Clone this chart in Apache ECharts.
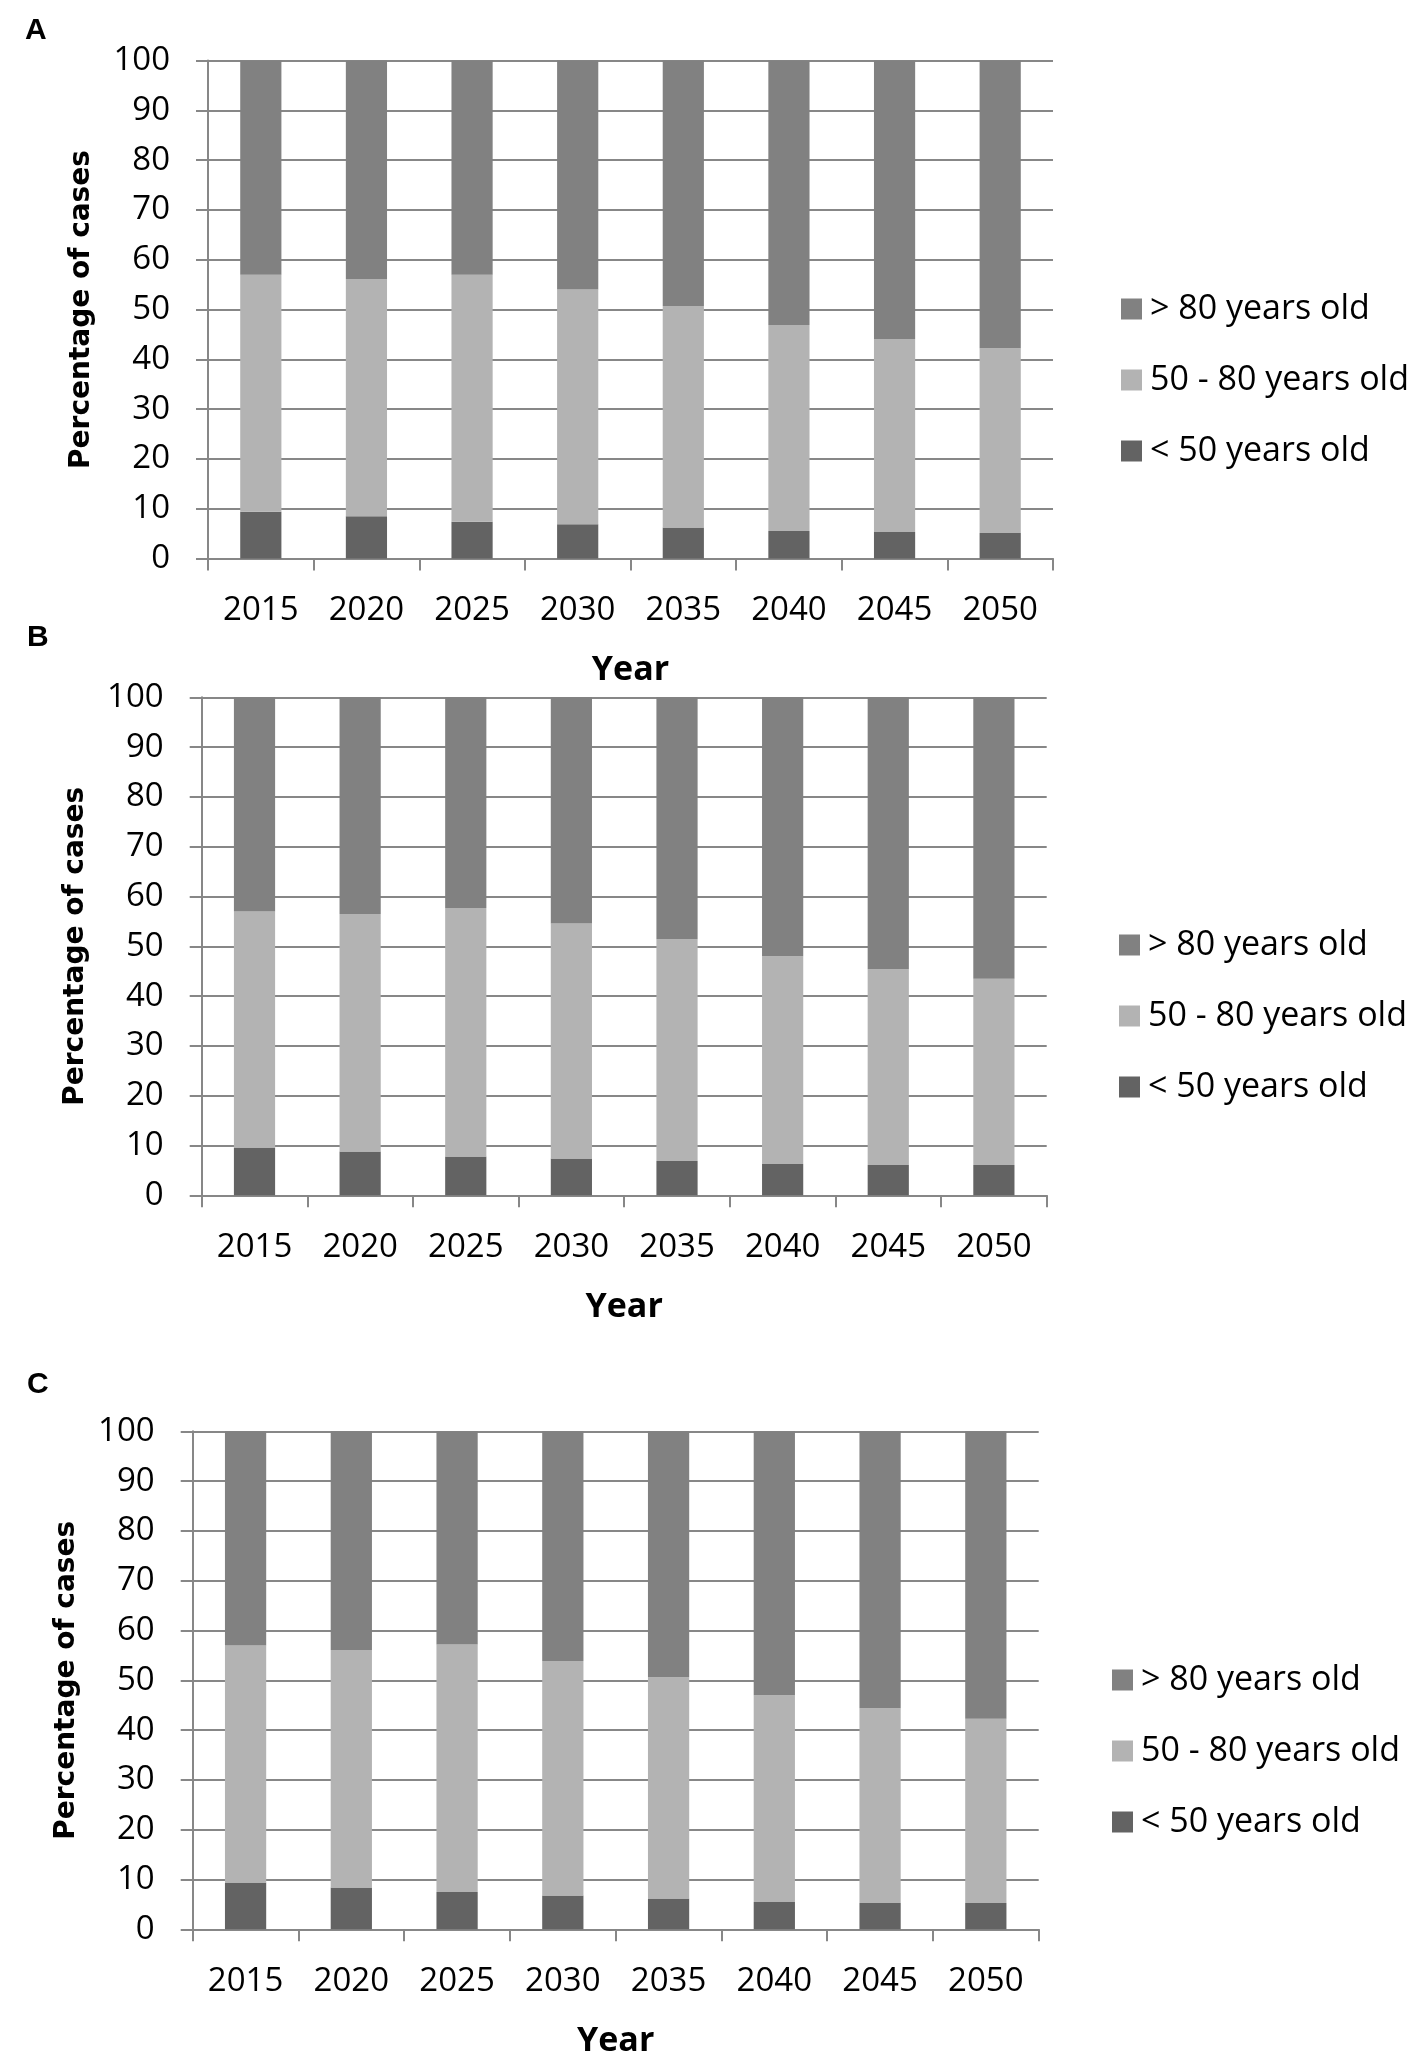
<!DOCTYPE html>
<html>
<head>
<meta charset="utf-8">
<script src="https://cdn.jsdelivr.net/npm/echarts@6/dist/echarts.min.js"></script>
<style>
  html, body { margin: 0; padding: 0; background: #ffffff; }
  #chart { width: 1417px; height: 2061px; }
</style>
</head>
<body>
<div id="chart"></div>
<script>
// ---- Data (percent of cases) ----
const categories = ['2015', '2020', '2025', '2030', '2035', '2040', '2045', '2050'];
const seriesNames = ['< 50 years old', '50 - 80 years old', '> 80 years old'];
const legendOrder = ['> 80 years old', '50 - 80 years old', '< 50 years old'];
const yTicks = [0, 10, 20, 30, 40, 50, 60, 70, 80, 90, 100];

// Panel A
const A_under50 = [9.4, 8.5, 7.4, 6.9, 6.2, 5.5, 5.3, 5.1];
const A_50to80  = [47.6, 47.6, 49.6, 47.1, 44.5, 41.4, 38.8, 37.1];
const A_over80  = [43.0, 43.9, 43.0, 46.0, 49.3, 53.1, 55.9, 57.8];
// Panel B
const B_under50 = [9.6, 8.8, 7.8, 7.4, 6.9, 6.3, 6.1, 6.1];
const B_50to80  = [47.4, 47.7, 49.9, 47.2, 44.5, 41.7, 39.3, 37.4];
const B_over80  = [43.0, 43.5, 42.3, 45.4, 48.6, 52.0, 54.6, 56.5];
// Panel C
const C_under50 = [9.4, 8.4, 7.5, 6.8, 6.2, 5.5, 5.3, 5.3];
const C_50to80  = [47.6, 47.7, 49.7, 47.1, 44.4, 41.5, 39.1, 37.0];
const C_over80  = [43.0, 43.9, 42.8, 46.1, 49.4, 53.0, 55.6, 57.7];

const panelLabels = ['A', 'B', 'C'];
const panelData = [
  [A_under50, A_50to80, A_over80],
  [B_under50, B_50to80, B_over80],
  [C_under50, C_50to80, C_over80]
];

// ---- Layout / style ----
const colors = ['#636363', '#b3b3b3', '#818181'];
const gridColor = '#878787';
const tickFont = '"Open Sans", "DejaVu Sans", sans-serif';
const panels = [
  { left: 208, top: 60.5, width: 845, height: 498, legendLeft: 1116, legendTop: 287, letterX: 25, letterY: 31 },
  { left: 201.7, top: 697.3, width: 845, height: 498, legendLeft: 1114, legendTop: 923, letterX: 27, letterY: 638 },
  { left: 192.7, top: 1431.3, width: 846, height: 498, legendLeft: 1107, legendTop: 1658, letterX: 27, letterY: 1385 }
];

const grids = [], xAxes = [], yAxes = [], series = [], legends = [], graphics = [];

panels.forEach((p, i) => {
  grids.push({ left: p.left, top: p.top, width: p.width, height: p.height, containLabel: false });
  xAxes.push({
    type: 'category', gridIndex: i, data: categories,
    name: 'Year', nameLocation: 'middle', nameGap: 95,
    nameTextStyle: { fontFamily: tickFont, fontWeight: 'bold', fontSize: 34, color: '#000' },
    axisLine: { show: true, lineStyle: { color: gridColor, width: 2 } },
    axisTick: { show: true, length: 12, lineStyle: { color: gridColor, width: 2 } },
    axisLabel: { margin: 36, fontFamily: tickFont, fontSize: 33, color: '#000' },
    splitLine: { show: false }
  });
  yAxes.push({
    type: 'value', gridIndex: i, min: 0, max: 100, interval: 10,
    name: 'Percentage of cases', nameLocation: 'middle', nameRotate: 90, nameGap: 112,
    nameTextStyle: { fontFamily: '"DejaVu Sans", sans-serif', fontWeight: 'bold', fontSize: 28, color: '#000' },
    axisLine: { show: true, lineStyle: { color: gridColor, width: 2 } },
    axisTick: { show: true, length: 12, lineStyle: { color: gridColor, width: 2 } },
    axisLabel: { margin: 38, fontFamily: tickFont, fontSize: 33, color: '#000',
      formatter: v => (yTicks.indexOf(v) >= 0 ? String(v) : '') },
    splitLine: { show: true, lineStyle: { color: gridColor, width: 2 } }
  });
  panelData[i].forEach((vals, k) => {
    series.push({
      type: 'bar', name: seriesNames[k], xAxisIndex: i, yAxisIndex: i,
      stack: 'panel' + i, data: vals, barWidth: '39%',
      itemStyle: { color: colors[k] }, emphasis: { disabled: true },
      animation: false
    });
  });
  legends.push({
    data: legendOrder, orient: 'vertical', left: p.legendLeft, top: p.legendTop,
    icon: 'rect', itemWidth: 21, itemHeight: 21, itemGap: 37, selectedMode: false,
    textStyle: { fontFamily: tickFont, fontSize: 34, color: '#000', padding: [0, 0, 0, 3] }
  });
  graphics.push({
    type: 'text', left: p.letterX, top: p.letterY - 15,
    style: { text: panelLabels[i], font: 'bold 30px "Liberation Sans", Arial, sans-serif', fill: '#000' }
  });
});

const chart = echarts.init(document.getElementById('chart'), null, { renderer: 'canvas' });
chart.setOption({
  backgroundColor: '#ffffff',
  animation: false,
  grid: grids,
  xAxis: xAxes,
  yAxis: yAxes,
  legend: legends,
  series: series,
  graphic: graphics
});
</script>
</body>
</html>
